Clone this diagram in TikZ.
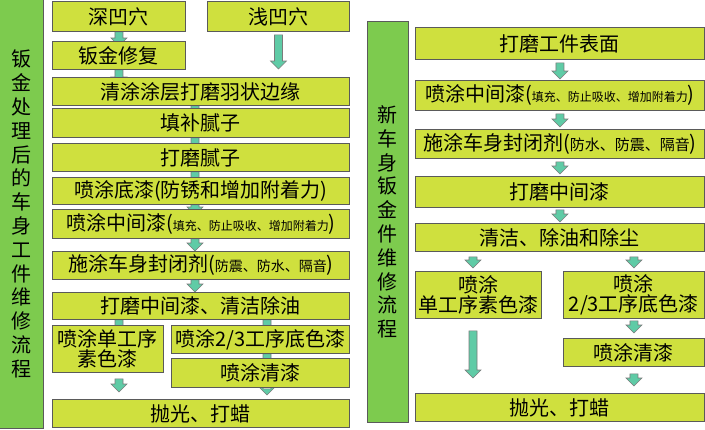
\documentclass[tikz,border=0pt]{standalone}
\usepackage{fontspec}
\setmainfont{Noto Sans CJK SC}
\definecolor{StageYellow}{HTML}{CFE03E}
\definecolor{BarGreen}{HTML}{7DCB4E}
\definecolor{FlowTeal}{HTML}{5FCBA6}
\definecolor{EdgeGray}{HTML}{5A5A5A}
\usetikzlibrary{calc,backgrounds}
\newcommand{\aside}[2]{{\fontsize{#1}{#1}\selectfont #2}}
\newcommand{\flowto}[2]{%
  \draw[flowarrow] let \p1=(#1), \p2=(#2) in
    (\x1-4pt,\y1) -- (\x1-4pt,\y2+8pt) -- (\x1-8pt,\y2+8pt) -- (\x1,\y2)
    -- (\x1+8pt,\y2+8pt) -- (\x1+4pt,\y2+8pt) -- (\x1+4pt,\y1) -- cycle;}

\begin{document}
\begin{tikzpicture}[x=1pt, y=-1pt,
    stage/.style={draw=EdgeGray, fill=StageYellow, line width=0.9pt, inner sep=0pt, anchor=north west, align=center, font=\fontsize{20}{20}\selectfont},
    bar/.style={draw=EdgeGray, fill=BarGreen, line width=0.9pt, inner sep=0pt, anchor=north west, align=center, font=\fontsize{20}{23.8}\selectfont},
    flowarrow/.style={draw=EdgeGray!80, fill=FlowTeal, line width=0.6pt, line join=miter}]
      \useasboundingbox (0,0) rectangle (705,429);
      \node[bar, minimum width=44pt, minimum height=429pt] (lbar) at (-1,-1) {钣\\金\\处\\理\\后\\的\\车\\身\\工\\件\\维\\修\\流\\程};
      \node[stage, minimum width=133pt, minimum height=30pt] (deep) at (52,1) {深凹穴};
      \node[stage, minimum width=142pt, minimum height=30pt] (shallow) at (207,1) {浅凹穴};
      \node[stage, minimum width=133pt, minimum height=28pt] (repair) at (52,41) {钣金修复};
      \node[stage, minimum width=297pt, minimum height=28pt] (feather) at (52,77) {清涂涂层打磨羽状边缘};
      \node[stage, minimum width=297pt, minimum height=29pt] (fillputty) at (52,108) {填补腻子};
      \node[stage, minimum width=297pt, minimum height=28pt] (sandputty) at (52,143) {打磨腻子};
      \node[stage, minimum width=297pt, minimum height=27pt] (primer) at (52,177) {喷涂底漆(防锈和增加附着力)};
      \node[stage, minimum width=297pt, minimum height=29pt] (midcoat) at (52,209) {喷涂中间漆(\aside{12}{填充、防止吸收、增加附着力})};
      \node[stage, minimum width=297pt, minimum height=28pt] (sealer) at (52,251) {施涂车身封闭剂(\aside{14}{防震、防水、隔音})};
      \node[stage, minimum width=297pt, minimum height=27pt] (sandmid) at (52,292) {打磨中间漆、清洁除油};
      \node[stage, minimum width=111pt, minimum height=47pt] (solid) at (52,325) {喷涂单工序\\素色漆};
      \node[stage, minimum width=178pt, minimum height=28pt] (basecoat) at (171,325) {喷涂2/3工序底色漆};
      \node[stage, minimum width=178pt, minimum height=29pt] (clearcoat) at (171,358) {喷涂清漆};
      \node[stage, minimum width=297pt, minimum height=28pt] (polish) at (52,399) {抛光、打蜡};
      \coordinate (lcol) at (119,0);
      \coordinate (lmain) at (195,0);
      \coordinate (lright) at (267,0);
      \node[bar, minimum width=41pt, minimum height=401pt] (rbar) at (367,21) {新\\车\\身\\钣\\金\\件\\维\\修\\流\\程};
      \node[stage, minimum width=289pt, minimum height=32pt] (rsurf) at (415,27) {打磨工件表面};
      \node[stage, minimum width=289pt, minimum height=30pt] (rmid) at (415,80) {喷涂中间漆(\aside{12}{填充、防止吸收、增加附着力})};
      \node[stage, minimum width=289pt, minimum height=29pt] (rseal) at (415,129) {施涂车身封闭剂(\aside{15}{防水、防震、隔音})};
      \node[stage, minimum width=289pt, minimum height=31pt] (rsandmid) at (415,176) {打磨中间漆};
      \node[stage, minimum width=289pt, minimum height=28pt] (rclean) at (415,223) {清洁、除油和除尘};
      \node[stage, minimum width=126pt, minimum height=47pt] (rsolid) at (415,271) {喷涂\\单工序素色漆};
      \node[stage, minimum width=141pt, minimum height=47pt] (rbase) at (563,271) {喷涂\\2/3工序底色漆};
      \node[stage, minimum width=141pt, minimum height=28pt] (rclear) at (563,338) {喷涂清漆};
      \node[stage, minimum width=289pt, minimum height=28pt] (rpolish) at (415,393) {抛光、打蜡};
      \coordinate (rcol) at (473,0);
      \begin{scope}[on background layer]
        \flowto{deep.south}{$(repair.north)+(0,5)$}
        \flowto{repair.south}{$(feather.north)+(0,8)$}
        \flowto{$(shallow.south)+(0,3)$}{$(feather.north -| shallow.south)+(0,-8)$}
        \flowto{feather.south -| lmain}{$(fillputty.north -| lmain)+(0,9)$}
        \flowto{fillputty.south -| lmain}{$(sandputty.north -| lmain)+(0,9)$}
        \flowto{sandputty.south -| lmain}{$(primer.north -| lmain)+(0,9)$}
        \flowto{primer.south -| lmain}{$(midcoat.north -| lmain)+(0,6)$}
        \flowto{midcoat.south -| lmain}{sealer.north -| lmain}
        \flowto{sealer.south -| lmain}{sandmid.north -| lmain}
        \flowto{sandmid.south -| lcol}{$(solid.north -| lcol)+(0,9)$}
        \flowto{sandmid.south -| lright}{$(basecoat.north -| lright)+(0,9)$}
        \flowto{basecoat.south -| lright}{$(clearcoat.north -| lright)+(0,9)$}
        \flowto{$(solid.south -| lcol)+(0,6)$}{$(polish.north -| lcol)+(0,-7)$}
        \flowto{$(clearcoat.south -| lright)+(0,1)$}{$(polish.north -| lright)+(0,-4)$}
        \flowto{$(rsurf.south)+(0,3)$}{$(rmid.north)+(0,-1)$}
        \flowto{$(rmid.south)+(0,3)$}{$(rseal.north)+(0,-2)$}
        \flowto{$(rseal.south)+(0,3)$}{$(rsandmid.north)+(0,-2)$}
        \flowto{$(rsandmid.south)+(0,2)$}{$(rclean.north)+(0,-1)$}
        \flowto{$(rclean.south -| rcol)+(0,5)$}{$(rsolid.north -| rcol)+(0,-3)$}
        \flowto{$(rclean.south -| rbase.north)+(0,5)$}{$(rbase.north)+(0,-3)$}
        \flowto{$(rbase.south)+(0,2)$}{$(rclear.north)+(0,-5)$}
        \flowto{$(rsolid.south -| rcol)+(0,12)$}{$(rpolish.north -| rcol)+(0,-15)$}
        \flowto{$(rclear.south)+(0,7)$}{$(rpolish.north -| rclear.south)+(0,-7)$}
      \end{scope}
    \end{tikzpicture}
\end{document}
